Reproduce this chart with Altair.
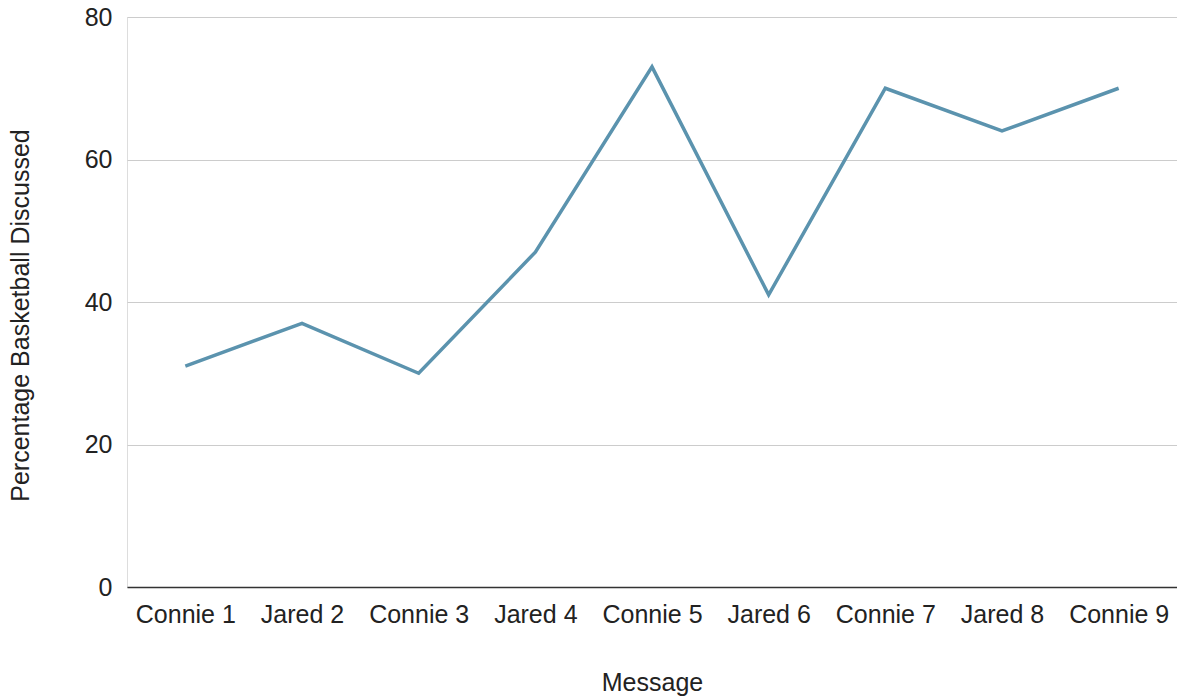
import altair as alt
import pandas as pd

messages = ["Connie 1", "Jared 2", "Connie 3", "Jared 4", "Connie 5",
            "Jared 6", "Connie 7", "Jared 8", "Connie 9"]
percent_basketball = [31, 37, 30, 47, 73, 41, 70, 64, 70]

df = pd.DataFrame({"Message": messages, "Percentage": percent_basketball})

FONT = "Liberation Sans"
SIZE = 25

chart = (
    alt.Chart(df)
    .mark_line(color="#5B93AE", strokeWidth=3.5)
    .encode(
        x=alt.X(
            "Message:N",
            sort=messages,
            scale=alt.Scale(paddingInner=0, paddingOuter=0.5),
            axis=alt.Axis(
                title="Message",
                labelAngle=0,
                labelFont=FONT,
                labelFontSize=SIZE,
                labelColor="#222222",
                labelPadding=15,
                ticks=False,
                domainColor="#333333",
                domainWidth=1.5,
                grid=False,
                titleFont=FONT,
                titleFontSize=SIZE,
                titleFontWeight="normal",
                titleColor="#222222",
                titleY=95,
                titleBaseline="middle",
            ),
        ),
        y=alt.Y(
            "Percentage:Q",
            scale=alt.Scale(domain=[0, 80]),
            axis=alt.Axis(
                title="Percentage Basketball Discussed",
                values=[0, 20, 40, 60, 80],
                labelFont=FONT,
                labelFontSize=SIZE,
                labelColor="#222222",
                labelPadding=15,
                ticks=False,
                domain=False,
                gridColor="#cccccc",
                gridWidth=1.2,
                titleFont=FONT,
                titleFontSize=SIZE,
                titleFontWeight="normal",
                titleColor="#222222",
                titleX=-107,
                titleY=298,
                titleAlign="center",
                titleBaseline="middle",
                titleAngle=-90,
            ),
        ),
    )
    .properties(
        width=1050,
        height=570,
        autosize=alt.AutoSizeParams(type="none"),
        padding={"left": 127, "top": 17, "right": 0, "bottom": 109},
    )
    .configure_view(stroke=None)
    .configure(background="white")
)

chart.save("out.html", embed_options={"renderer": "svg", "actions": False})
